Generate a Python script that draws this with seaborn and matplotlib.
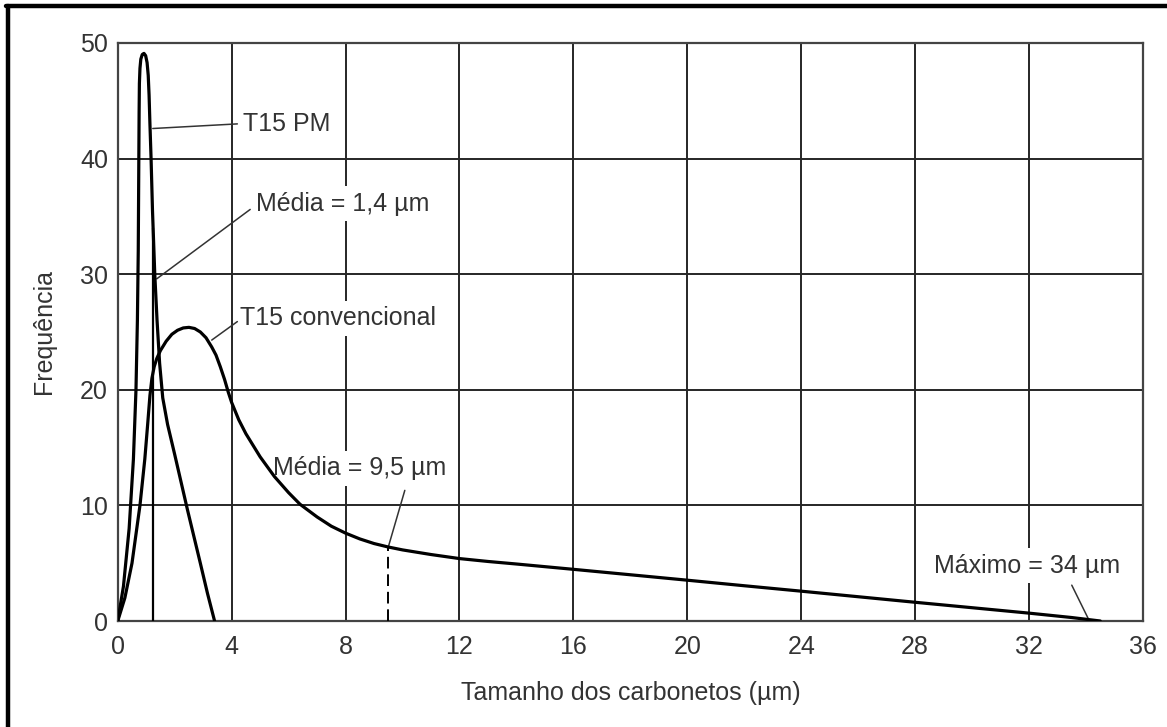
"""Distribuição do tamanho dos carbonetos: T15 PM x T15 convencional."""
import matplotlib
matplotlib.use("Agg")
import matplotlib.pyplot as plt
import seaborn as sns
import pandas as pd
from matplotlib.lines import Line2D

# T15 PM (metalurgia do pó) - curva estreita
pm_tamanho = [0, 0.2, 0.4, 0.55, 0.64, 0.69, 0.72, 0.74, 0.75, 0.76, 0.78, 0.81,
              0.86, 0.92, 0.98, 1.03, 1.07, 1.1, 1.13, 1.17, 1.22, 1.3, 1.38,
              1.47, 1.58, 1.75, 2.0, 2.45, 2.9, 3.15, 3.4]
pm_freq = [0, 3, 8, 14, 20, 26, 32, 40, 44, 46.5, 47.8, 48.6,
           49.0, 49.1, 48.9, 48.3, 47.2, 45.5, 43, 40, 35.5, 30, 26,
           22.3, 19.3, 17.0, 14.4, 9.6, 5.0, 2.4, 0]

# T15 convencional - curva larga com cauda longa
conv_tamanho = [0, 0.25, 0.5, 0.78, 0.95, 1.05, 1.13, 1.2, 1.28, 1.37, 1.5, 1.7,
                1.9, 2.1, 2.3, 2.5, 2.7, 2.9, 3.1, 3.3, 3.45, 3.6, 3.75, 3.88,
                4.0, 4.25, 4.5, 4.75, 5.0, 5.5, 6.0, 6.4, 7.0, 7.5, 8.0, 8.5,
                9.0, 9.5, 10, 11, 12, 13, 14, 16, 18, 20, 22, 24, 26, 28, 30,
                32, 33.5, 34.5]
conv_freq = [0, 2, 5, 10, 14, 17, 19.5, 21, 22, 22.7, 23.4, 24.2,
             24.8, 25.15, 25.35, 25.4, 25.3, 25.0, 24.5, 23.7, 23.0, 22.0, 20.9, 19.8,
             18.9, 17.4, 16.2, 15.2, 14.2, 12.5, 11.1, 10.1, 9.0, 8.2, 7.6, 7.1,
             6.7, 6.4, 6.15, 5.75, 5.4, 5.15, 4.93, 4.47, 4.0, 3.53, 3.05, 2.58, 2.1,
             1.62, 1.15, 0.68, 0.3, 0]

# marcadores de média
media_pm_x = 1.23
media_pm_topo = 34
media_conv_x = 9.5
media_conv_topo = 6.4

# rótulos: (texto, x do texto, y do texto, linha de chamada x, linha de chamada y)
rotulos = [
    ("T15 PM", 4.4, 43.0, [1.23, 4.2], [42.6, 43.0]),
    ("Média = 1,4 \u00b5m", 4.85, 36.1, [1.37, 4.65], [29.6, 35.6]),
    ("T15 convencional", 4.3, 26.2, [3.3, 4.2], [24.3, 25.9]),
    ("Média = 9,5 \u00b5m", 5.45, 13.2, [9.5, 10.08], [6.4, 11.3]),
    ("Máximo = 34 \u00b5m", 28.65, 4.8, [34.1, 33.5], [0.1, 3.1]),
]

x_ticks = list(range(0, 37, 4))
y_ticks = list(range(0, 51, 10))

sns.set_theme(style="white")
plt.rcParams["font.family"] = ["Liberation Sans", "DejaVu Sans"]

cor_texto = "#333333"
cor_grade = "#262626"
tam_fonte = 18

df = pd.concat([
    pd.DataFrame({"tamanho": pm_tamanho, "freq": pm_freq, "curva": "T15 PM"}),
    pd.DataFrame({"tamanho": conv_tamanho, "freq": conv_freq, "curva": "T15 convencional"}),
])

fig = plt.figure(figsize=(11.67, 7.27), dpi=100)
ax = fig.add_axes([0.1009, 0.1458, 0.8785, 0.7951])

sns.lineplot(data=df, x="tamanho", y="freq", units="curva", estimator=None,
             sort=False, color="black", linewidth=2.3, ax=ax, zorder=5)

# linhas das médias
ax.plot([media_pm_x, media_pm_x], [0, media_pm_topo], color="black", lw=1.6, zorder=4)
ax.plot([media_conv_x, media_conv_x], [0, media_conv_topo], color="black", lw=1.4,
        linestyle=(0, (6, 3)), zorder=4)

for texto, tx, ty, lx, ly in rotulos:
    ax.plot(lx, ly, color="#333333", lw=1.1, zorder=4)
    ax.text(tx, ty, texto, fontsize=tam_fonte, color=cor_texto, va="center", ha="left",
            zorder=3, bbox=dict(facecolor="white", edgecolor="none", pad=4))

ax.set_xlim(0, 36)
ax.set_ylim(0, 50)
ax.set_xticks(x_ticks)
ax.set_yticks(y_ticks)
ax.set_axisbelow(True)
ax.grid(True, color=cor_grade, linewidth=1.4)
for s in ax.spines.values():
    s.set_color("#444444")
    s.set_linewidth(1.6)

ax.tick_params(axis="both", length=0, labelsize=tam_fonte, labelcolor=cor_texto)
ax.tick_params(axis="x", pad=10)
ax.tick_params(axis="y", pad=7)
ax.set_xlabel("Tamanho dos carbonetos (\u00b5m)", fontsize=tam_fonte, color=cor_texto,
              labelpad=16)
ax.set_ylabel("Frequência", fontsize=tam_fonte, color=cor_texto, labelpad=17)

# moldura da figura
fig.add_artist(Line2D([0.0069, 0.0069], [0, 0.992], transform=fig.transFigure,
                      color="black", lw=3.2))
fig.add_artist(Line2D([0.0052, 1.0], [0.9917, 0.9917], transform=fig.transFigure,
                      color="black", lw=3.2))

plt.savefig("out.png", dpi=100)
plt.close()
